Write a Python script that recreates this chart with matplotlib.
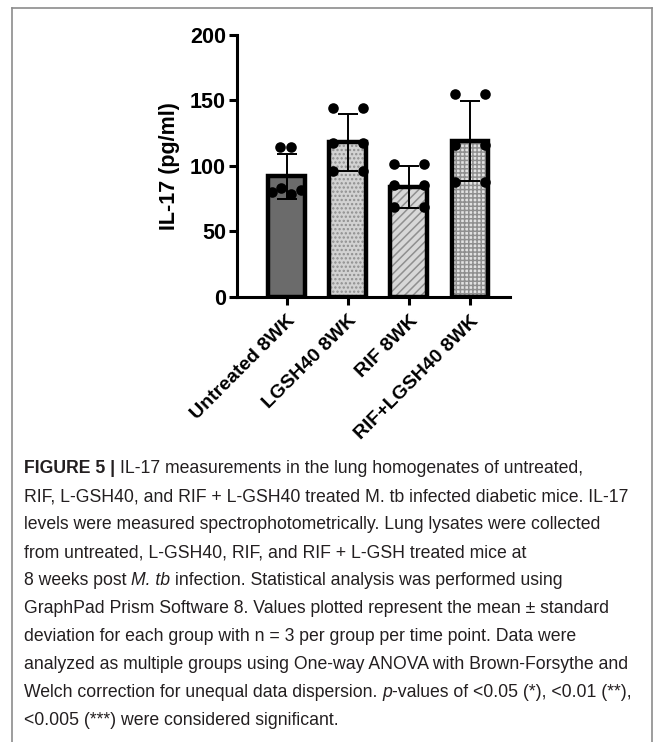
import matplotlib
matplotlib.use("Agg")
import matplotlib.pyplot as plt
from matplotlib import font_manager
from matplotlib.lines import Line2D


# values
groups = ["Untreated 8WK", "LGSH40 8WK", "RIF 8WK", "RIF+LGSH40 8WK"]
means = [92, 118, 84, 119]
sds = [17, 22, 16, 30.5]
points = [
    [114.5, 114.5, 80.5, 83, 79, 82],
    [144.5, 144.5, 117.5, 117.5, 96.5, 96.5],
    [101.5, 101.5, 85.5, 85.5, 69, 69],
    [155, 155, 116, 116, 88, 88],
]
y_ticks = [0, 50, 100, 150, 200]

caption_lines = [
    [("FIGURE 5 |", "b"), (" IL-17 measurements in the lung homogenates of untreated,", "n")],
    [("RIF, L-GSH40, and RIF + L-GSH40 treated M. tb infected diabetic mice. IL-17", "n")],
    [("levels were measured spectrophotometrically. Lung lysates were collected", "n")],
    [("from untreated, L-GSH40, RIF, and RIF + L-GSH treated mice at", "n")],
    [("8 weeks post ", "n"), ("M. tb", "i"), (" infection. Statistical analysis was performed using", "n")],
    [("GraphPad Prism Software 8. Values plotted represent the mean \u00b1 standard", "n")],
    [("deviation for each group with n = 3 per group per time point. Data were", "n")],
    [("analyzed as multiple groups using One-way ANOVA with Brown-Forsythe and", "n")],
    [("Welch correction for unequal data dispersion. ", "n"), ("p", "i"),
     ("-values of <0.05 (*), <0.01 (**),", "n")],
    [("<0.005 (***) were considered significant.", "n")],
]

# styling / layout
W, H = 663, 742
fills = ["#6b6b6b", "#d2d2d2", "#d8d8d8", "#e2e2e2"]
hatches = [None, "....", "////", "++++"]
hatch_color = "#8f8f8f"
dot_dx = [
    [-0.11, 0.07, -0.24, -0.095, 0.07, 0.23],
    [-0.245, 0.245, -0.245, 0.245, -0.245, 0.245],
    [-0.245, 0.245, -0.245, 0.245, -0.245, 0.245],
    [-0.245, 0.245, -0.245, 0.245, -0.245, 0.245],
]

plt.rcParams["font.family"] = ["Liberation Sans", "DejaVu Sans"]
plt.rcParams["hatch.linewidth"] = 1.1

installed = {f.name for f in font_manager.fontManager.ttflist}
if "Liberation Sans Narrow" in installed:
    CAPTION_FONT = ["Liberation Sans Narrow", "DejaVu Sans"]
    CAPTION_SIZE = 15.0
else:
    CAPTION_FONT = ["Liberation Sans", "DejaVu Sans"]
    CAPTION_SIZE = 12.7


def draw_caption(fig, x_px, y_px, step_px):
    renderer = fig.canvas.get_renderer()

    def width_of(s, style):
        t = fig.text(0, 0, s, fontsize=CAPTION_SIZE, family=CAPTION_FONT,
                     fontweight="bold" if style == "b" else "normal",
                     fontstyle="italic" if style == "i" else "normal")
        w = t.get_window_extent(renderer).width
        t.remove()
        return w

    space_w = width_of("a a", "n") - width_of("aa", "n")
    for i, segs in enumerate(caption_lines):
        x = x_px
        y = y_px + i * step_px
        for text, style in segs:
            lead = len(text) - len(text.lstrip(" "))
            trail = len(text) - len(text.rstrip(" "))
            x += lead * space_w
            body = text.strip(" ")
            t = fig.text(x / W, 1 - y / H, body, fontsize=CAPTION_SIZE, family=CAPTION_FONT,
                         fontweight="bold" if style == "b" else "normal",
                         fontstyle="italic" if style == "i" else "normal",
                         color="#231f20", ha="left", va="baseline")
            x += t.get_window_extent(renderer).width + trail * space_w


fig = plt.figure(figsize=(W / 100, H / 100), dpi=100)
ax = fig.add_axes([237 / W, 1 - 297 / H, (510 - 237) / W, (297 - 35) / H])

x = list(range(len(groups)))
bar_w = 0.6
for i in x:
    ax.bar(i, means[i], bar_w, color=fills[i], edgecolor=hatch_color,
           hatch=hatches[i], linewidth=0, zorder=2)
ax.bar(x, means, bar_w, color="none", edgecolor="black", linewidth=3.2, zorder=2.5)
ax.errorbar(x, means, yerr=sds, fmt="none", ecolor="black", elinewidth=1.4,
            capsize=7, capthick=1.4, zorder=3)
for i in x:
    xs = [i + d for d in dot_dx[i]]
    ax.scatter(xs, points[i], s=58, color="black", zorder=4, clip_on=False, linewidths=0)

ax.set_xlim(-0.81, 3.655)
ax.set_ylim(0, 200)
ax.set_yticks(y_ticks)
ax.set_yticklabels([str(v) for v in y_ticks], fontsize=15.5, fontweight="bold")
ax.set_xticks(x)
ax.set_xticklabels(groups, rotation=45, ha="right", va="top", rotation_mode="anchor",
                   fontsize=14, fontweight="bold")
ax.set_ylabel("IL-17 (pg/ml)", fontsize=15.5, fontweight="bold", labelpad=7)
for side in ["top", "right"]:
    ax.spines[side].set_visible(False)
for side in ["left", "bottom"]:
    ax.spines[side].set_linewidth(2.2)
ax.tick_params(width=2.2, length=6, pad=2)
ax.tick_params(axis="x", pad=5)

# grey panel frame
frame = dict(transform=fig.transFigure, color="#8c8c8c", linewidth=1.2)
fig.add_artist(Line2D([12 / W, 652 / W], [1 - 8 / H, 1 - 8 / H], **frame))
fig.add_artist(Line2D([12 / W, 12 / W], [1 - 8 / H, 0], **frame))
fig.add_artist(Line2D([652 / W, 652 / W], [1 - 8 / H, 0], **frame))

draw_caption(fig, 24, 473, 28.0)

fig.savefig("out.png", dpi=100)
